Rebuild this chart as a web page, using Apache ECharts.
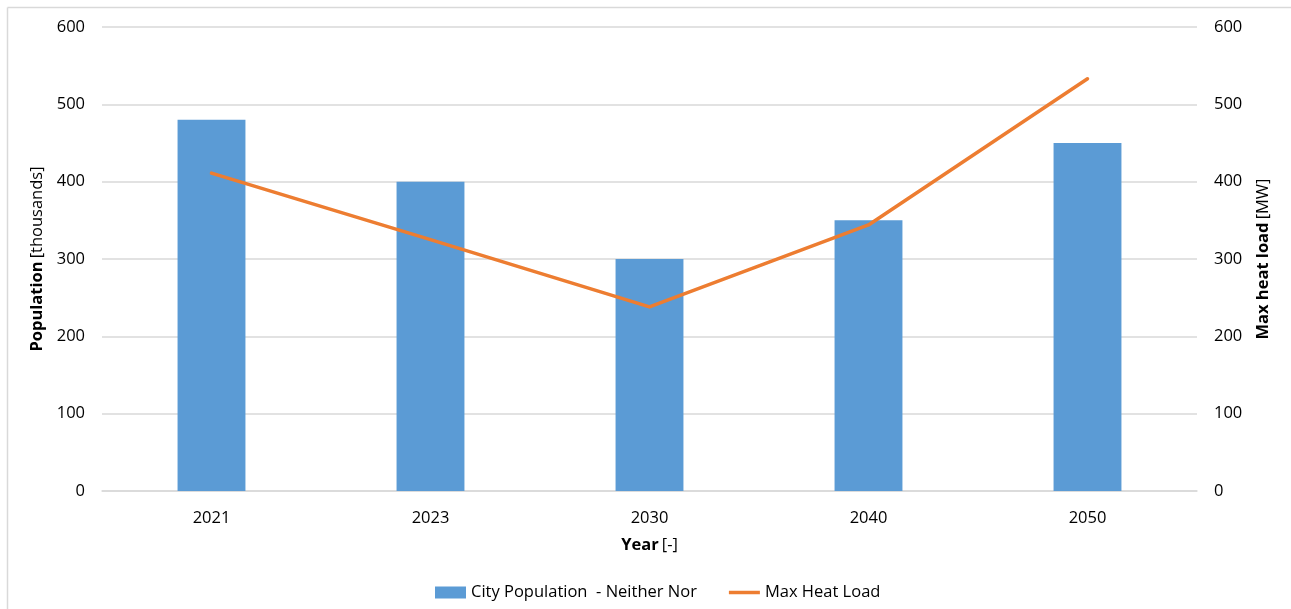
<!DOCTYPE html>
<html>
<head>
<meta charset="utf-8">
<script src="https://cdn.jsdelivr.net/npm/echarts@6/dist/echarts.min.js"></script>
<style>
  html, body { margin: 0; padding: 0; background: #fff; }
  #chart { width: 1291px; height: 609px; }
</style>
</head>
<body>
<div id="chart"></div>
<script>
// Years on the category axis
const years = ['2021', '2023', '2030', '2040', '2050'];
// City population, thousands
const population = [480, 400, 300, 350, 450];
// Peak heat demand, MW
const maxHeatLoad = [411, 325, 238, 344, 533];
// Shared tick values for both value axes
const yTicks = [0, 100, 200, 300, 400, 500, 600];

const FONT = '"Open Sans", "Noto Sans", sans-serif';
const FS = 16.5;
const chart = echarts.init(document.getElementById('chart'), null, { renderer: 'canvas' });

const nameRich = {
  b: { fontFamily: FONT, fontSize: FS, fontWeight: 'bold', color: '#000' },
  r: { fontFamily: FONT, fontSize: FS, color: '#000' }
};

const valueAxis = (pos, name, gap) => ({
  type: 'value',
  position: pos,
  min: yTicks[0],
  max: yTicks[yTicks.length - 1],
  interval: 100,
  name: name,
  nameLocation: 'middle',
  nameGap: gap,
  nameRotate: 90,
  nameTextStyle: { rich: nameRich },
  axisLine: { show: false },
  axisTick: { show: false },
  axisLabel: { color: '#000', fontFamily: FONT, fontSize: FS, margin: 17 },
  splitLine: { show: pos === 'left', lineStyle: { color: '#d9d9d9', width: 1.5 } }
});

chart.setOption({
  animation: false,
  backgroundColor: '#fff',
  textStyle: { fontFamily: FONT },
  graphic: [
    { type: 'line', shape: { x1: 7.5, y1: 7.5, x2: 1291, y2: 7.5 }, style: { stroke: '#d9d9d9', lineWidth: 1.5 } },
    { type: 'line', shape: { x1: 7.5, y1: 7.5, x2: 7.5, y2: 609 }, style: { stroke: '#d9d9d9', lineWidth: 1.5 } }
  ],
  grid: { left: 102, right: 94, top: 27, bottom: 118, containLabel: false },
  legend: {
    bottom: 3,
    left: 430,
    itemGap: 32,
    itemWidth: 31,
    itemHeight: 12,
    textStyle: { color: '#000', fontFamily: FONT, fontSize: FS },
    data: [
      { name: 'City Population  - Neither Nor', icon: 'rect' },
      { name: 'Max Heat Load', icon: 'path://M0,0M31,12M0,4.25h31v3.5h-31z' }
    ]
  },
  xAxis: {
    type: 'category',
    data: years,
    name: '{b|Year} {r|[-]}',
    nameLocation: 'middle',
    nameGap: 46,
    nameTextStyle: { rich: nameRich },
    axisLine: { lineStyle: { color: '#d9d9d9', width: 1.5 } },
    axisTick: { show: false },
    axisLabel: { color: '#000', fontFamily: FONT, fontSize: FS, margin: 19 }
  },
  yAxis: [
    valueAxis('left', '{b|Population} {r|[thousands]}', 51),
    valueAxis('right', '{b|Max heat load} {r|[MW]}', 58)
  ],
  series: [
    {
      name: 'City Population  - Neither Nor',
      type: 'bar',
      yAxisIndex: 0,
      data: population,
      barWidth: '31%',
      itemStyle: { color: '#5b9bd5' }
    },
    {
      name: 'Max Heat Load',
      type: 'line',
      yAxisIndex: 1,
      data: maxHeatLoad,
      showSymbol: false,
      symbol: 'none',
      lineStyle: { color: '#ed7d31', width: 3.5, cap: 'round', join: 'round' },
      itemStyle: { color: '#ed7d31' }
    }
  ]
});
</script>
</body>
</html>
